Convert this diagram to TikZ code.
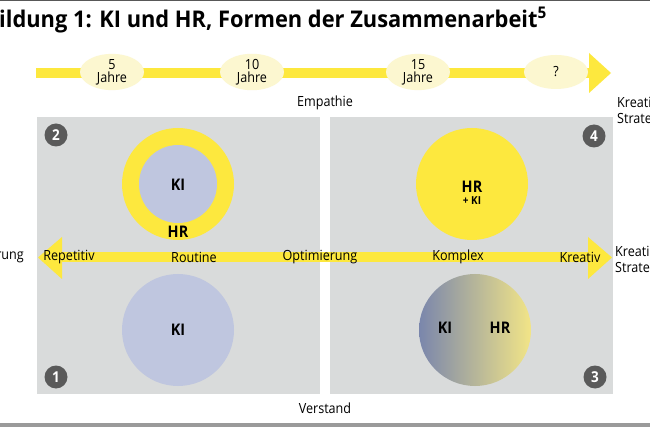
\documentclass[tikz,border=0pt]{standalone}
\usepackage{fontspec}
\setmainfont[FakeStretch=0.9]{Open Sans}
\newfontfamily\titlefont[FakeStretch=0.95]{Open Sans}
\usetikzlibrary{shapes.geometric}
\definecolor{ylw}{RGB}{253,232,62}
\definecolor{pale}{RGB}{252,247,208}
\definecolor{panel}{RGB}{217,219,219}
\definecolor{kiblue}{RGB}{191,198,223}
\definecolor{badgegray}{RGB}{90,90,90}
\definecolor{gradL}{RGB}{122,134,172}
\definecolor{gradR}{RGB}{242,229,135}
\definecolor{rule}{RGB}{110,110,110}
\begin{document}
\begin{tikzpicture}[x=1pt,y=-1pt,
  lbl/.style={font=\fontsize{14}{15}\selectfont, inner sep=0pt, text=black},
  yr/.style={ellipse, fill=pale, minimum width=64pt, minimum height=34pt, inner sep=0pt, align=center, font=\fontsize{14}{13}\selectfont},
  badgenode/.style={circle, fill=badgegray, minimum size=23pt, inner sep=0pt, text=white, font=\bfseries\fontsize{15}{15}\selectfont},
  bigc/.style={circle, minimum size=112pt, inner sep=0pt},
  boldlbl/.style={font=\bfseries\fontsize{16}{16}\selectfont, inner sep=0pt}
]
\useasboundingbox (0,0) rectangle (650,427);
\fill[white] (0,0) rectangle (650,427);
% rules top and bottom
\fill[rule!80!black] (0,0) rectangle (650,1.5);
\fill[rule!70!white] (0,423) rectangle (650,427);
% title
\node[anchor=west, inner sep=0pt, font=\titlefont\bfseries\fontsize{23}{25}\selectfont] (title) at (-1,20) {ildung 1: KI und HR, Formen der Zusammenarbeit\textsuperscript{5}};
% timeline arrow
\fill[ylw] (36,68) rectangle (590,78);
\fill[ylw] (589,53) -- (611,73) -- (589,93) -- cycle;
\node[yr] (t5) at (112,72) {5\\Jahre};
\node[yr] (t10) at (252,72) {10\\Jahre};
\node[yr] (t15) at (418,72) {15\\Jahre};
\node[yr] (tq) at (556,72) {?};
% axis labels
\node[lbl] (emp) at (325,103) {Empathie};
\node[lbl] (ver) at (325,408) {Verstand};
\node[lbl, anchor=west] (kr1) at (617,102) {Kreati};
\node[lbl, anchor=west] (st1) at (617,119) {Strate};
\node[lbl, anchor=west] (kr2) at (615,251) {Kreati};
\node[lbl, anchor=west] (st2) at (615,268) {Strate};
\node[lbl, anchor=east] (rung) at (24,257) {rung};
% panels
\fill[panel] (37,117) rectangle (320,394);
\fill[panel] (330,117) rectangle (613,394);
% horizontal double arrow
\fill[ylw] (60,252) rectangle (590,262);
\fill[ylw] (62,237) -- (38,257.5) -- (62,279) -- cycle;
\fill[ylw] (588,237) -- (612,257.5) -- (588,279) -- cycle;
\node[lbl] (rep) at (69,257) {Repetitiv};
\node[lbl] (rou) at (194,257) {Routine};
\node[lbl] (opt) at (320,257) {Optimierung};
\node[lbl] (kom) at (458,257) {Komplex};
\node[lbl] (kre) at (580,257) {Kreativ};
% quadrant 2
\node[bigc, fill=ylw] (q2o) at (178,184) {};
\node[circle, fill=kiblue, minimum size=78pt, inner sep=0pt] (q2i) at (178,184) {};
\node[boldlbl] (q2ki) at (178,185) {KI};
\node[boldlbl] (q2hr) at (178,232) {HR};
% quadrant 4
\node[bigc, fill=ylw] (q4) at (472,184) {};
\node[boldlbl] (q4hr) at (472,187) {HR};
\node[inner sep=0pt, font=\bfseries\fontsize{11}{11}\selectfont] (q4ki) at (472,201) {+ KI};
% quadrant 1
\node[bigc, fill=kiblue] (q1) at (178,330) {};
\node[boldlbl] (q1ki) at (178,330) {KI};
% quadrant 3
\shade[left color=gradL, right color=gradR] (475,330) circle (56);
\node[boldlbl] (q3ki) at (445,328) {KI};
\node[boldlbl] (q3hr) at (500,328) {HR};
% badges
\node[badgenode] (b2) at (56,135) {2};
\node[badgenode] (b4) at (594,136) {4};
\node[badgenode] (b1) at (56,377) {1};
\node[badgenode] (b3) at (595,377) {3};
\end{tikzpicture}
\end{document}
